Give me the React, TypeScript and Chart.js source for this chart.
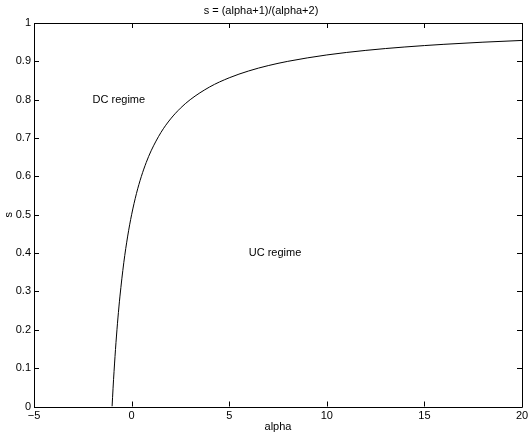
import React, { useEffect, useRef } from "react";
import { Chart, registerables } from "chart.js";

Chart.register(...registerables);

const alphaValues = [-1, -0.95, -0.9, -0.8, -0.7, -0.6, -0.4, -0.2, 0, 0.25, 0.5, 0.75, 1, 1.5, 2, 2.5, 3, 4, 5, 6, 7, 8, 10, 12, 14, 16, 18, 20];
const sValues = [0, 0.0476, 0.0909, 0.1667, 0.2308, 0.2857, 0.375, 0.4444, 0.5, 0.5556, 0.6, 0.6364, 0.6667, 0.7143, 0.75, 0.7778, 0.8, 0.8333, 0.8571, 0.875, 0.8889, 0.9, 0.9167, 0.9286, 0.9375, 0.9444, 0.95, 0.9545];
const xTicks = [-5, 0, 5, 10, 15, 20];
const yTicks = [0, 0.1, 0.2, 0.3, 0.4, 0.5, 0.6, 0.7, 0.8, 0.9, 1];
const annotations = [
  { text: "DC regime", alpha: -2, s: 0.8 },
  { text: "UC regime", alpha: 6, s: 0.4 },
];
const titleText = "s = (alpha+1)/(alpha+2)";
const xLabel = "alpha";
const yLabel = "s";

const FONT = "'Liberation Sans', Arial, Helvetica, sans-serif";

export default function App() {
  const ref = useRef<HTMLCanvasElement | null>(null);
  useEffect(() => {
    if (!ref.current) return;
    const framePlugin = {
      id: "frame",
      afterDraw(chart: any) {
        const { ctx, chartArea: a, scales } = chart;
        const xs = scales.x;
        const ys = scales.y;
        ctx.save();
        ctx.strokeStyle = "#000";
        ctx.lineWidth = 1;
        ctx.beginPath();
        ctx.rect(Math.round(a.left) + 0.5, Math.round(a.top) + 0.5, Math.round(a.right - a.left), Math.round(a.bottom - a.top));
        ctx.stroke();
        const len = 5;
        ctx.beginPath();
        xTicks.forEach((v) => {
          const px = Math.round(xs.getPixelForValue(v)) + 0.5;
          ctx.moveTo(px, a.bottom);
          ctx.lineTo(px, a.bottom - len);
          ctx.moveTo(px, a.top);
          ctx.lineTo(px, a.top + len);
        });
        yTicks.forEach((v) => {
          const py = Math.round(ys.getPixelForValue(v)) + 0.5;
          ctx.moveTo(a.left, py);
          ctx.lineTo(a.left + len, py);
          ctx.moveTo(a.right, py);
          ctx.lineTo(a.right - len, py);
        });
        ctx.stroke();
        ctx.fillStyle = "#000";
        ctx.font = `11px ${FONT}`;
        ctx.textAlign = "left";
        ctx.textBaseline = "middle";
        annotations.forEach((an) => {
          ctx.fillText(an.text, xs.getPixelForValue(an.alpha), ys.getPixelForValue(an.s));
        });
        ctx.restore();
      },
    };
    const chart = new Chart(ref.current, {
      type: "line",
      data: {
        datasets: [
          {
            data: alphaValues.map((a, i) => ({ x: a, y: sValues[i] })),
            borderColor: "#000",
            borderWidth: 1,
            pointRadius: 0,
            fill: false,
            cubicInterpolationMode: "monotone",
          },
        ],
      },
      options: {
        responsive: false,
        animation: false,
        layout: { padding: { left: 0, right: 10, top: 0, bottom: 0 } },
        plugins: {
          legend: { display: false },
          tooltip: { enabled: false },
          title: {
            display: true,
            text: titleText,
            color: "#000",
            font: { family: FONT, size: 11, weight: "normal" },
            padding: { top: 4, bottom: 5.8 },
          },
        },
        scales: {
          x: {
            type: "linear",
            min: -5,
            max: 20,
            grid: { display: false, drawTicks: false },
            border: { display: false },
            afterBuildTicks(scale: any) {
              scale.ticks = xTicks.map((v) => ({ value: v }));
            },
            afterFit(scale: any) {
              scale.height = 29.5;
            },
            ticks: {
              color: "#000",
              font: { family: FONT, size: 11 },
              padding: 3,
              maxRotation: 0,
              callback: (v: any) => String(v).replace("-", "\u2212"),
            },
            title: {
              display: true,
              text: xLabel,
              color: "#000",
              font: { family: FONT, size: 11 },
              padding: { top: 0, bottom: 2.5 },
            },
          },
          y: {
            type: "linear",
            min: 0,
            max: 1,
            grid: { display: false, drawTicks: false },
            border: { display: false },
            afterBuildTicks(scale: any) {
              scale.ticks = yTicks.map((v) => ({ value: v }));
            },
            afterFit(scale: any) {
              scale.width = 34;
            },
            ticks: {
              color: "#000",
              font: { family: FONT, size: 11 },
              padding: 3,
              callback: (v: any) => String(Math.round(v * 10) / 10),
            },
            title: {
              display: true,
              text: yLabel,
              color: "#000",
              font: { family: FONT, size: 11 },
              padding: { top: 2, bottom: 0 },
            },
          },
        },
      },
      plugins: [framePlugin],
    } as any);
    return () => chart.destroy();
  }, []);
  return (
    <div style={{ position: "fixed", left: 0, top: 0, width: 532, height: 436, background: "#fff" }}>
      <canvas ref={ref} width={532} height={436} />
    </div>
  );
}
